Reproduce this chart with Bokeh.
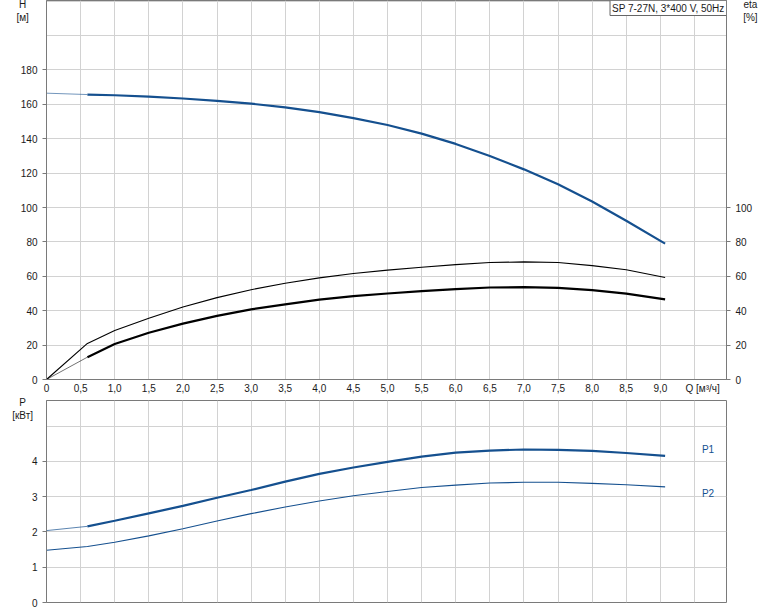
from bokeh.plotting import figure
from bokeh.models import Range1d, FixedTicker, LinearAxis, Label
from bokeh.layouts import column
from bokeh.embed import file_html
from bokeh.resources import INLINE

# ---- data ----
q = [0, 0.6, 1.0, 1.5, 2.0, 2.5, 3.0, 3.5, 4.0, 4.5, 5.0, 5.5, 6.0, 6.5, 7.0, 7.5, 8.0, 8.5, 9.07]
head = [166.5, 165.7, 165.3, 164.5, 163.4, 162.0, 160.4, 158.3, 155.5, 152.0, 148.0, 143.0, 137.0, 130.0, 122.2, 113.5, 103.5, 92.3, 79.0]
eta_pump = [0, 21.0, 28.5, 35.6, 42.2, 47.6, 52.2, 56.0, 59.1, 61.6, 63.6, 65.3, 66.8, 68.0, 68.4, 68.0, 66.2, 63.8, 59.3]
eta_total = [0, 13.0, 20.6, 27.2, 32.5, 37.0, 40.8, 43.7, 46.4, 48.5, 50.0, 51.4, 52.6, 53.5, 53.7, 53.3, 52.0, 49.9, 46.6]
p1_power = [2.04, 2.16, 2.32, 2.53, 2.74, 2.97, 3.19, 3.43, 3.65, 3.83, 3.99, 4.14, 4.25, 4.31, 4.34, 4.33, 4.30, 4.24, 4.16]
p2_power = [1.48, 1.59, 1.71, 1.89, 2.09, 2.31, 2.52, 2.71, 2.88, 3.03, 3.15, 3.26, 3.33, 3.39, 3.41, 3.41, 3.38, 3.34, 3.28]

x_ticks = [0, 0.5, 1.0, 1.5, 2.0, 2.5, 3.0, 3.5, 4.0, 4.5, 5.0, 5.5, 6.0, 6.5, 7.0, 7.5, 8.0, 8.5, 9.0]
x_tick_labels = ["0", "0,5", "1,0", "1,5", "2,0", "2,5", "3,0", "3,5", "4,0", "4,5", "5,0",
                 "5,5", "6,0", "6,5", "7,0", "7,5", "8,0", "8,5", "9,0"]
q_label_pos = 9.62
q_label = "Q [м³/ч]"
x_grid = x_ticks + [9.5]
h_ticks = [0, 20, 40, 60, 80, 100, 120, 140, 160, 180]
h_grid = h_ticks + [200, 220]
eta_ticks = [0, 20, 40, 60, 80, 100]
p_ticks = [0, 1, 2, 3, 4]
p_grid = p_ticks + [5]

title_text = "SP 7-27N, 3*400 V, 50Hz"

BLUE = "#15508f"
FONT = "Liberation Sans"
TXT = "#1a1a1a"
AX = "#7a7a7a"
GRID = "#d2d2d2"
W = 770
XMAX = 9.97

def style_axis(ax, tick_out=4, standoff=5):
    ax.axis_line_color = AX
    ax.major_tick_line_color = AX
    ax.major_tick_out = tick_out
    ax.major_tick_in = 0
    ax.minor_tick_line_color = None
    ax.major_label_text_font = FONT
    ax.major_label_text_font_size = "10px"
    ax.major_label_text_color = TXT
    ax.major_label_standoff = standoff

def style_grid(p):
    for g in (p.xgrid, p.ygrid):
        g.grid_line_color = GRID
        g.grid_line_width = 1

def txt(x, y, s, align="center", color=TXT, baseline="middle"):
    return Label(x=x, y=y, text=s, text_font=FONT, text_font_size="10px",
                 text_color=color, text_align=align, text_baseline=baseline,
                 text_line_height=1.17)

# ---- top panel: H and eta ----
pt = figure(width=W, height=396, x_range=Range1d(0, XMAX), y_range=Range1d(0, 220.4),
            output_backend="svg", toolbar_location=None, title=None,
            min_border_left=46, min_border_right=W - 726, min_border_top=0, min_border_bottom=15)
pt.outline_line_color = AX
pt.background_fill_color = "white"
pt.xaxis.ticker = FixedTicker(ticks=x_ticks + [q_label_pos])
overrides = dict(zip(x_ticks, x_tick_labels))
overrides[q_label_pos] = q_label
pt.xaxis.major_label_overrides = overrides
style_axis(pt.xaxis[0], tick_out=0, standoff=3)
pt.yaxis.ticker = FixedTicker(ticks=h_ticks)
style_axis(pt.yaxis[0])
rax = LinearAxis(ticker=FixedTicker(ticks=eta_ticks))
style_axis(rax)
pt.add_layout(rax, "right")
pt.xgrid.ticker = FixedTicker(ticks=x_grid)
pt.ygrid.ticker = FixedTicker(ticks=h_grid)
style_grid(pt)

# thin start segments and full curves
pt.line(q[:2], head[:2], line_color=BLUE, line_width=1, line_alpha=0.6)
pt.line(q[1:], head[1:], line_color=BLUE, line_width=2.2)
pt.line(q, eta_pump, line_color="black", line_width=1.1)
pt.line(q[:2], eta_total[:2], line_color="black", line_width=0.8, line_alpha=0.7)
pt.line(q[1:], eta_total[1:], line_color="black", line_width=2.2)

pt.add_layout(txt(-0.35, 214.1, "H\n[м]"), "left")
pt.add_layout(txt(10.32, 214.1, "eta\n[%]"), "right")
box = Label(x=XMAX, y=220.4, text=title_text, text_font=FONT, text_font_size="10px",
            text_color=TXT, text_align="right", text_baseline="top",
            background_fill_color="white", border_line_color="#666666", border_line_width=1,
            padding=2)
pt.add_layout(box)

# ---- bottom panel: P1, P2 ----
pb = figure(width=W, height=214, x_range=pt.x_range, y_range=Range1d(0, 5.73),
            output_backend="svg", toolbar_location=None, title=None, x_axis_location=None,
            min_border_left=46, min_border_right=W - 726, min_border_top=4, min_border_bottom=8)
pb.outline_line_color = AX
pb.yaxis.ticker = FixedTicker(ticks=p_ticks)
style_axis(pb.yaxis[0])
pb.xgrid.ticker = FixedTicker(ticks=x_grid)
pb.ygrid.ticker = FixedTicker(ticks=p_grid)
style_grid(pb)

pb.line(q[:2], p1_power[:2], line_color=BLUE, line_width=1, line_alpha=0.7)
pb.line(q[1:], p1_power[1:], line_color=BLUE, line_width=2.2)
pb.line(q, p2_power, line_color=BLUE, line_width=1.1)

pb.add_layout(txt(-0.35, 5.48, "P\n[кВт]"), "left")
pb.add_layout(txt(9.61, 4.35, "P1", align="left", color=BLUE))
pb.add_layout(txt(9.61, 3.08, "P2", align="left", color=BLUE))

layout = column(pt, pb, spacing=0)

open("out.html", "w").write(file_html(layout, INLINE))
